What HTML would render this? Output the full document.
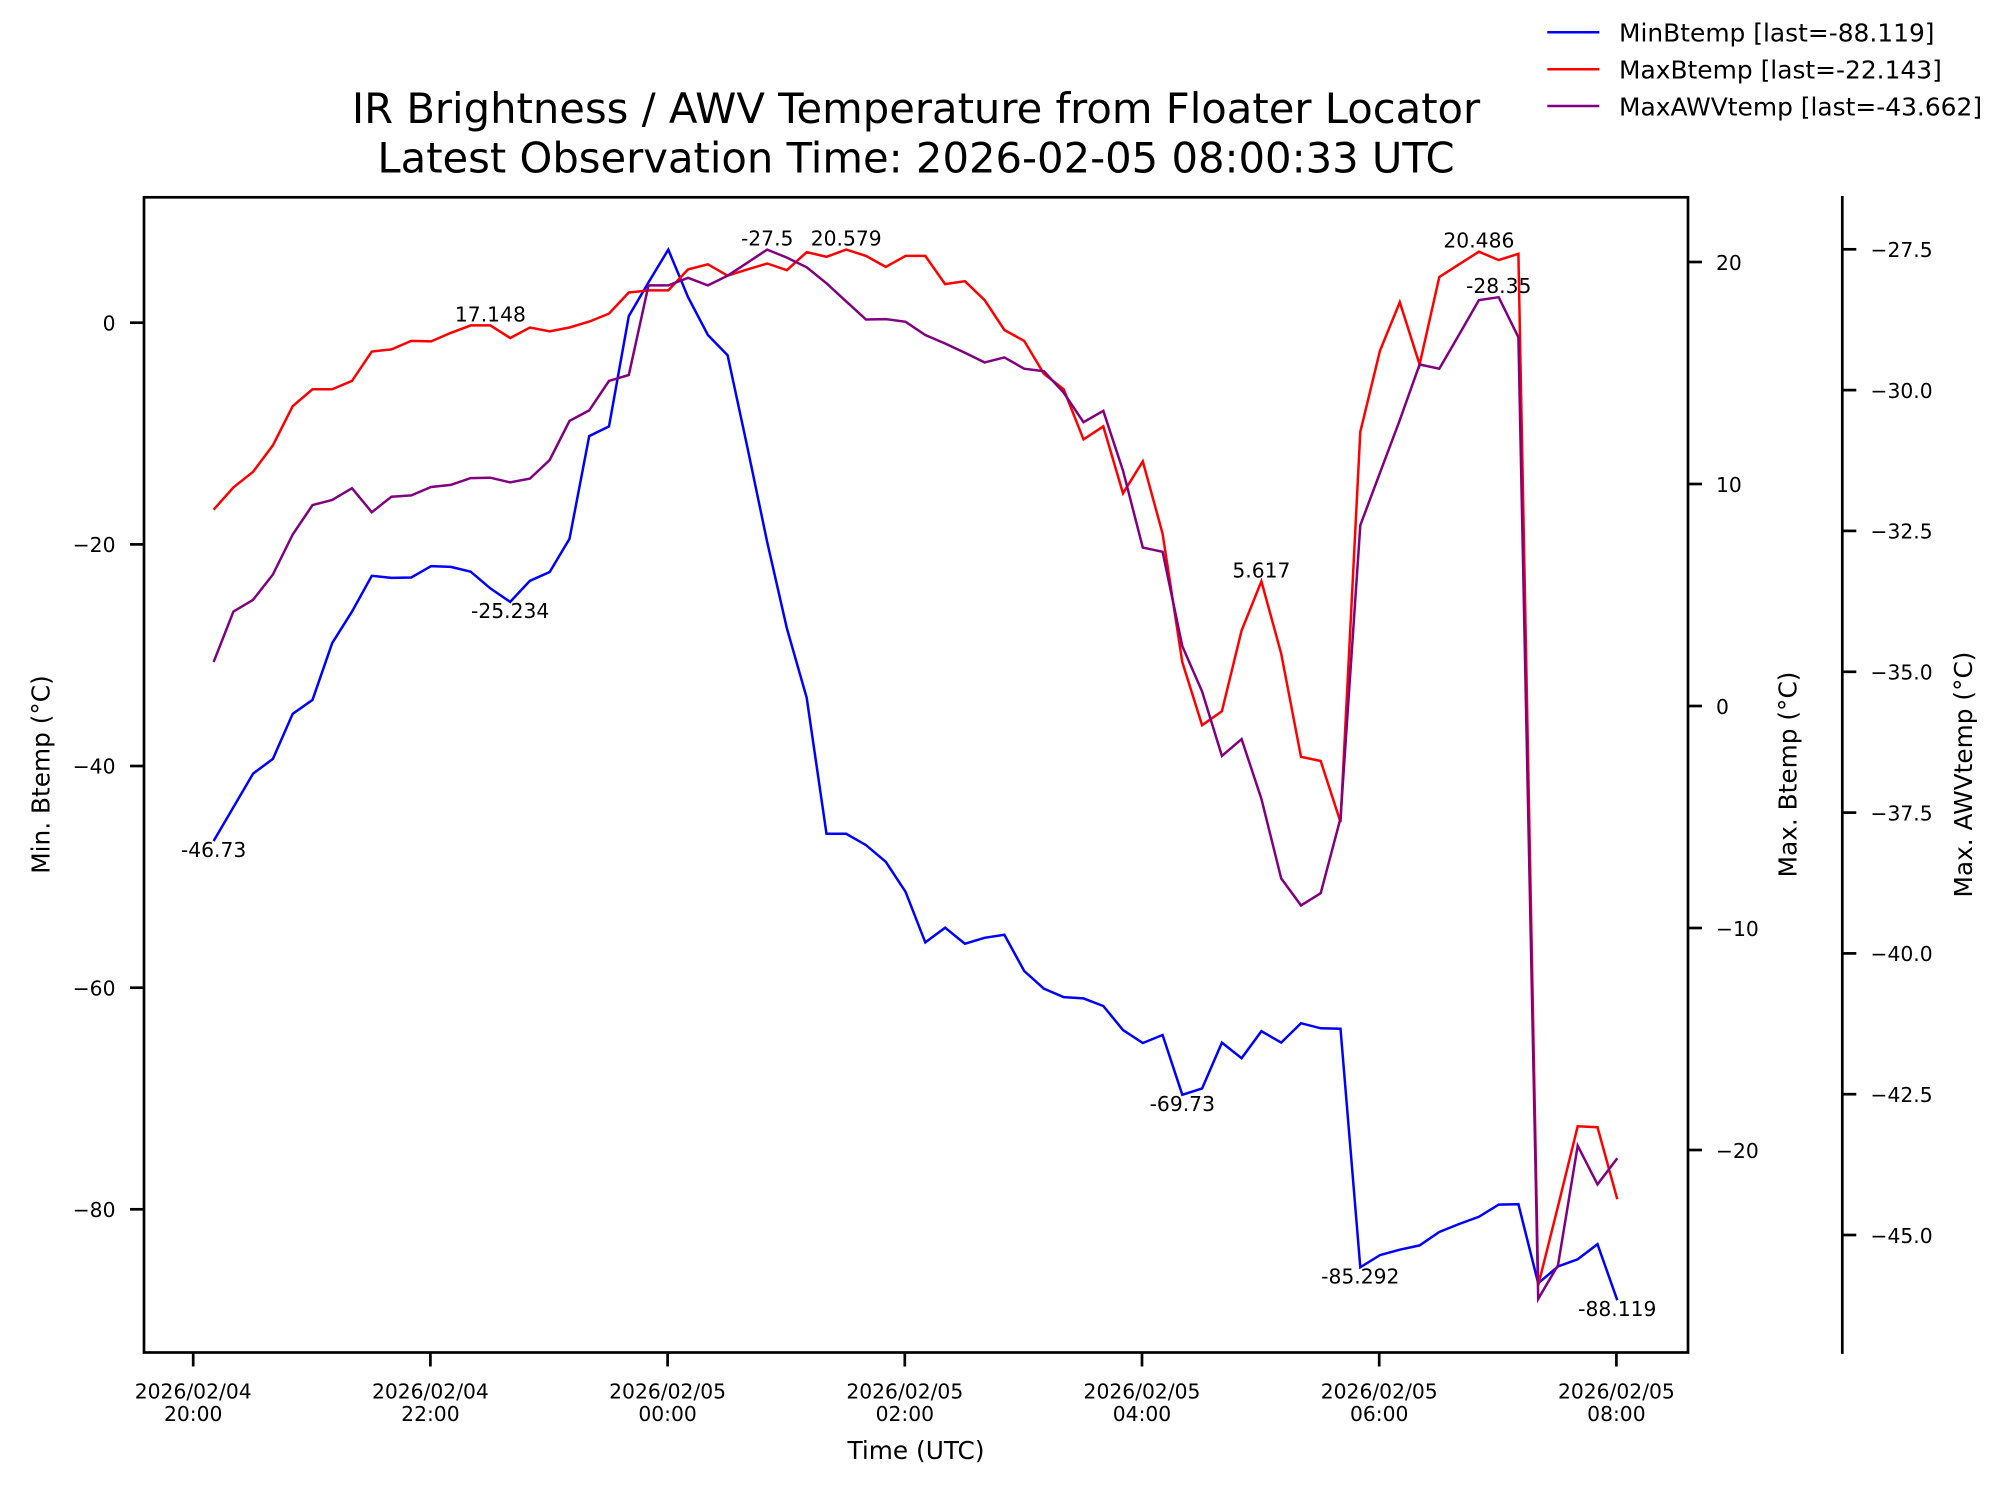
<!DOCTYPE html>
<html>
<head>
<meta charset="utf-8">
<style>
  html, body { margin: 0; padding: 0; background: #ffffff; }
  svg { display: block; }
  text { font-family: "DejaVu Sans", "Liberation Sans", sans-serif; fill: #000; }
</style>
</head>
<body>
<svg width="2005" height="1495" viewBox="0 0 2005 1495" xmlns="http://www.w3.org/2000/svg">
  <rect x="0" y="0" width="2005" height="1495" fill="#ffffff"/>

  <!-- Title -->
  <text x="916" y="123" font-size="41.7" text-anchor="middle">IR Brightness / AWV Temperature from Floater Locator</text>
  <text x="916" y="172.7" font-size="41.7" text-anchor="middle">Latest Observation Time: 2026-02-05 08:00:33 UTC</text>

  <!-- Legend -->
  <line x1="1547.3" y1="32.3" x2="1599.3" y2="32.3" stroke="#0000ff" stroke-width="2.5"/>
  <text x="1619" y="41.7" font-size="24.9">MinBtemp [last=-88.119]</text>
  <line x1="1547.3" y1="69.3" x2="1599.3" y2="69.3" stroke="#ff0000" stroke-width="2.5"/>
  <text x="1619" y="78.7" font-size="24.9">MaxBtemp [last=-22.143]</text>
  <line x1="1547.3" y1="106" x2="1599.3" y2="106" stroke="#800080" stroke-width="2.5"/>
  <text x="1619" y="115.4" font-size="24.9">MaxAWVtemp [last=-43.662]</text>

  <!-- Series: MinBtemp (blue) -->
  <polyline fill="none" stroke="#0000ff" stroke-width="2.5" stroke-linejoin="miter" points="
213.6,841 233.4,807.3 253.1,773.6 272.9,758.9 292.7,713.8 312.5,699.9 332.2,643.1 352.0,611.6 371.8,575.8 391.5,577.9
411.3,577.5 431.1,566.1 450.8,566.9 470.6,571.6 490.4,588.4 510.2,601.9 529.9,580.8 549.7,572 569.5,538.8 589.2,436.1
609.0,426.4 628.8,316.1 648.5,282.4 668.3,249.6 688.1,297.2 707.9,335 727.6,355.2 747.4,447.4 767.2,542.1 786.9,628.4
806.7,697.8 826.5,833.8 846.2,833.8 866.0,845.1 885.8,861.8 905.6,891.9 925.3,942.4 945.1,927.7 964.9,943.7 984.6,937.8
1004.4,934.8 1024.2,971 1043.9,988.7 1063.7,997.1 1083.5,998.4 1103.3,1006 1123.0,1030 1142.8,1043 1162.6,1035 1182.3,1094.8
1202.1,1088.5 1221.9,1042.6 1241.6,1058.2 1261.4,1031.2 1281.2,1042.6 1301.0,1023.2 1320.7,1028.3 1340.5,1028.7 1360.3,1267.3 1380.0,1255.1
1399.8,1249.7 1419.6,1245.4 1439.3,1232 1459.1,1224 1478.9,1216.8 1498.7,1204.6 1518.4,1204.2 1538.2,1283.3 1558.0,1266.5 1577.7,1259.3
1597.5,1244.2 1617.3,1300.2"/>

  <!-- Series: MaxBtemp (red) -->
  <polyline fill="none" stroke="#ff0000" stroke-width="2.5" stroke-linejoin="miter" points="
213.6,509.7 233.4,487.4 253.1,471.8 272.9,445.3 292.7,406.2 312.5,389.3 332.2,389.3 352.0,380.9 371.8,351.5 391.5,349.4
411.3,340.9 431.1,341.4 450.8,332.9 470.6,325.4 490.4,325.4 510.2,338 529.9,327.5 549.7,331.3 569.5,327.5 589.2,321.6
609.0,313.6 628.8,292.5 648.5,290.4 668.3,290.4 688.1,269.4 707.9,264.3 727.6,275.7 747.4,269.4 767.2,263.5 786.9,270.2
806.7,252.1 826.5,256.8 846.2,249.6 866.0,255.9 885.8,266.9 905.6,255.9 925.3,255.9 945.1,284.1 964.9,281.2 984.6,300.1
1004.4,330 1024.2,340.9 1043.9,373.8 1063.7,389.3 1083.5,439.4 1103.3,426.4 1123.0,493.3 1142.8,461.3 1162.6,533.7 1182.3,662.1
1202.1,725.2 1221.9,711.3 1241.6,630.5 1261.4,581.3 1281.2,653.6 1301.0,756.8 1320.7,761 1340.5,822 1360.3,431.8 1380.0,350.6
1399.8,302.2 1419.6,364.5 1439.3,277 1459.1,264.3 1478.9,251.7 1498.7,260.1 1518.4,253.8 1538.2,1285.4 1558.0,1206.3 1577.7,1126.3
1597.5,1127.2 1617.3,1199.2"/>

  <!-- Series: MaxAWVtemp (purple) -->
  <polyline fill="none" stroke="#800080" stroke-width="2.5" stroke-linejoin="miter" points="
213.6,662.1 233.4,611.6 253.1,599.8 272.9,574.5 292.7,534.5 312.5,505.1 332.2,500 352.0,488.2 371.8,512.2 391.5,496.7
411.3,495.4 431.1,487 450.8,484.9 470.6,478.1 490.4,477.7 510.2,482.4 529.9,478.6 549.7,460 569.5,420.9 589.2,410.4
609.0,380.9 628.8,375 648.5,285.4 668.3,285.4 688.1,277.8 707.9,285.4 727.6,275.7 747.4,262.7 767.2,249.6 786.9,257.6
806.7,267.3 826.5,283.3 846.2,301.4 866.0,319.5 885.8,319.1 905.6,321.8 925.3,335 945.1,343.5 964.9,352.7 984.6,362.4
1004.4,357.4 1024.2,368.7 1043.9,371.2 1063.7,392.7 1083.5,422.2 1103.3,410.8 1123.0,470.6 1142.8,547.6 1162.6,551.8 1182.3,646.1
1202.1,691.5 1221.9,755.9 1241.6,739.1 1261.4,798.8 1281.2,878.4 1301.0,905.4 1320.7,893.2 1340.5,818.3 1360.3,525.3 1380.0,472.7
1399.8,420.1 1419.6,364.5 1439.3,368.7 1459.1,334.6 1478.9,300.1 1498.7,297.2 1518.4,337.2 1538.2,1298.9 1558.0,1265.2 1577.7,1145.7
1597.5,1184.4 1617.3,1158.3"/>

  <!-- Annotations -->
  <g font-size="20.3" text-anchor="middle">
    <text x="213.6" y="857">-46.73</text>
    <text x="490.4" y="321.4">17.148</text>
    <text x="510.2" y="617.9">-25.234</text>
    <text x="767.2" y="245.6">-27.5</text>
    <text x="846.2" y="245.6">20.579</text>
    <text x="1261.4" y="577.3">5.617</text>
    <text x="1182.3" y="1110.8">-69.73</text>
    <text x="1360.3" y="1283.3">-85.292</text>
    <text x="1478.9" y="247.7">20.486</text>
    <text x="1498.7" y="293.2">-28.35</text>
    <text x="1617.3" y="1316.2">-88.119</text>
  </g>

  <!-- Axes frame -->
  <rect x="144" y="197.3" width="1544" height="1155.2" fill="none" stroke="#000" stroke-width="2.7"/>
  <!-- Third axis spine -->
  <line x1="1842.3" y1="196" x2="1842.3" y2="1353.9" stroke="#000" stroke-width="2.7"/>

  <!-- Left ticks -->
  <g stroke="#000" stroke-width="2.7">
    <line x1="130" y1="322.7" x2="144" y2="322.7"/>
    <line x1="130" y1="544.4" x2="144" y2="544.4"/>
    <line x1="130" y1="766" x2="144" y2="766"/>
    <line x1="130" y1="987.7" x2="144" y2="987.7"/>
    <line x1="130" y1="1209.3" x2="144" y2="1209.3"/>
  </g>
  <g font-size="20.3" text-anchor="end">
    <text x="115.5" y="330.3">0</text>
    <text x="115.5" y="552">−20</text>
    <text x="115.5" y="773.6">−40</text>
    <text x="115.5" y="995.3">−60</text>
    <text x="115.5" y="1216.9">−80</text>
  </g>

  <!-- Right ticks (MaxBtemp) -->
  <g stroke="#000" stroke-width="2.7">
    <line x1="1688" y1="262" x2="1702" y2="262"/>
    <line x1="1688" y1="484" x2="1702" y2="484"/>
    <line x1="1688" y1="706" x2="1702" y2="706"/>
    <line x1="1688" y1="928" x2="1702" y2="928"/>
    <line x1="1688" y1="1150" x2="1702" y2="1150"/>
  </g>
  <g font-size="20.3" text-anchor="start">
    <text x="1716" y="269.8">20</text>
    <text x="1716" y="491.8">10</text>
    <text x="1716" y="713.8">0</text>
    <text x="1716" y="935.8">−10</text>
    <text x="1716" y="1157.8">−20</text>
  </g>

  <!-- Third axis ticks (MaxAWVtemp) -->
  <g stroke="#000" stroke-width="2.7">
    <line x1="1842.3" y1="249.3" x2="1856.3" y2="249.3"/>
    <line x1="1842.3" y1="390.1" x2="1856.3" y2="390.1"/>
    <line x1="1842.3" y1="530.9" x2="1856.3" y2="530.9"/>
    <line x1="1842.3" y1="671.8" x2="1856.3" y2="671.8"/>
    <line x1="1842.3" y1="812.6" x2="1856.3" y2="812.6"/>
    <line x1="1842.3" y1="953.4" x2="1856.3" y2="953.4"/>
    <line x1="1842.3" y1="1094.2" x2="1856.3" y2="1094.2"/>
    <line x1="1842.3" y1="1235" x2="1856.3" y2="1235"/>
  </g>
  <g font-size="20.3" text-anchor="start">
    <text x="1870.5" y="257.1">−27.5</text>
    <text x="1870.5" y="397.9">−30.0</text>
    <text x="1870.5" y="538.7">−32.5</text>
    <text x="1870.5" y="679.6">−35.0</text>
    <text x="1870.5" y="820.4">−37.5</text>
    <text x="1870.5" y="961.2">−40.0</text>
    <text x="1870.5" y="1102">−42.5</text>
    <text x="1870.5" y="1242.8">−45.0</text>
  </g>

  <!-- Bottom ticks -->
  <g stroke="#000" stroke-width="2.7">
    <line x1="193.2" y1="1352.5" x2="193.2" y2="1366.5"/>
    <line x1="430.4" y1="1352.5" x2="430.4" y2="1366.5"/>
    <line x1="667.6" y1="1352.5" x2="667.6" y2="1366.5"/>
    <line x1="904.8" y1="1352.5" x2="904.8" y2="1366.5"/>
    <line x1="1142.0" y1="1352.5" x2="1142.0" y2="1366.5"/>
    <line x1="1379.2" y1="1352.5" x2="1379.2" y2="1366.5"/>
    <line x1="1616.4" y1="1352.5" x2="1616.4" y2="1366.5"/>
  </g>
  <g font-size="20.3" text-anchor="middle">
    <text x="193.2" y="1398.3">2026/02/04</text>
    <text x="193.2" y="1421">20:00</text>
    <text x="430.4" y="1398.3">2026/02/04</text>
    <text x="430.4" y="1421">22:00</text>
    <text x="667.6" y="1398.3">2026/02/05</text>
    <text x="667.6" y="1421">00:00</text>
    <text x="904.8" y="1398.3">2026/02/05</text>
    <text x="904.8" y="1421">02:00</text>
    <text x="1142.0" y="1398.3">2026/02/05</text>
    <text x="1142.0" y="1421">04:00</text>
    <text x="1379.2" y="1398.3">2026/02/05</text>
    <text x="1379.2" y="1421">06:00</text>
    <text x="1616.4" y="1398.3">2026/02/05</text>
    <text x="1616.4" y="1421">08:00</text>
  </g>

  <!-- Axis labels -->
  <text x="916" y="1459" font-size="24.8" text-anchor="middle">Time (UTC)</text>
  <text transform="translate(49.5,774.5) rotate(-90)" font-size="24.8" text-anchor="middle">Min. Btemp (°C)</text>
  <text transform="translate(1796.6,774.5) rotate(-90)" font-size="24.8" text-anchor="middle">Max. Btemp (°C)</text>
  <text transform="translate(1971.8,774.5) rotate(-90)" font-size="24.8" text-anchor="middle">Max. AWVtemp (°C)</text>
</svg>
</body>
</html>
